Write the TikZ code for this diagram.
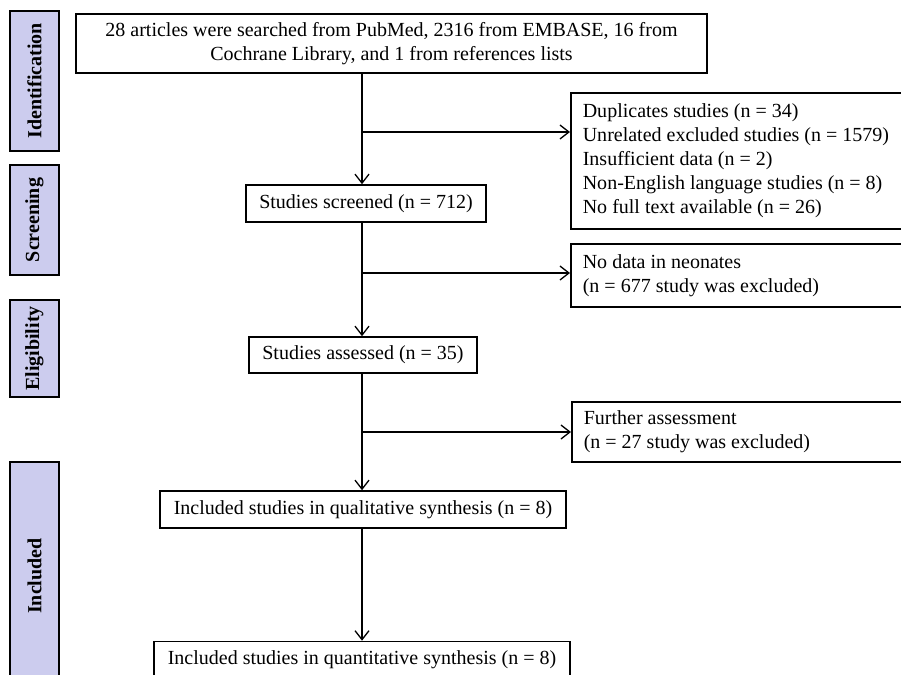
\documentclass[tikz,border=0pt]{standalone}
\usepackage{fontspec}
\setmainfont{Liberation Serif}
\usetikzlibrary{arrows.meta}
\definecolor{phasefill}{RGB}{204,204,238}
\begin{document}
\begin{tikzpicture}[x=1pt,y=-1pt,
  every node/.style={font=\fontsize{20}{24}\selectfont, text=black},
  mainbox/.style={draw, line width=1.6pt, fill=white, inner sep=0pt, minimum height=37pt, align=center},
  sidebox/.style={draw, line width=1.6pt, fill=white, anchor=west, inner xsep=12pt, inner ysep=0pt, text width=318pt, align=flush left},
  phase/.style={draw, line width=1.6pt, fill=phasefill, rotate=90, minimum height=49pt, inner sep=0pt, font=\fontsize{20}{24}\selectfont\bfseries},
  arr/.style={line width=1.3pt, -{Straight Barb[length=9pt,width=14pt,line width=1.3pt]}},
  ln/.style={line width=1.3pt}]
\clip (0,0) rectangle (901,674);
\fill[white] (0,0) rectangle (901,674);
% phase labels
\node[phase, minimum width=140pt] (pid) at (34.5,81) {Identification};
\node[phase, minimum width=110pt] (psc) at (34.5,220) {Screening};
\node[phase, minimum width=97pt] (pel) at (34.5,348.5) {Eligibility};
\node[phase, minimum width=228pt] (pin) at (34.5,576) {Included};
% main boxes
\node[mainbox, minimum width=631pt, minimum height=59pt] (top) at (391.5,43.5) {28 articles were searched from PubMed, 2316 from EMBASE, 16 from\\Cochrane Library, and 1 from references lists};
\node[mainbox, minimum width=240pt] (scr) at (366,203.5) {Studies screened (n = 712)};
\node[mainbox, minimum width=228pt, minimum height=36pt] (ass) at (363,355) {Studies assessed (n = 35)};
\node[mainbox, minimum width=406pt] (qual) at (363,509.5) {Included studies in qualitative synthesis (n = 8)};
\node[mainbox, minimum width=416pt] (quan) at (362,660) {Included studies in quantitative synthesis (n = 8)};
% side boxes
\node[sidebox, minimum height=136pt] (ex1) at (570,161) {Duplicates studies (n = 34)\\Unrelated excluded studies (n = 1579)\\Insufficient data (n = 2)\\Non-English language studies (n = 8)\\No full text available (n = 26)};
\node[sidebox, minimum height=63pt] (ex2) at (570,275.5) {No data in neonates\\(n = 677 study was excluded)};
\node[sidebox, minimum height=60pt] (ex3) at (571,432) {Further assessment\\(n = 27 study was excluded)};
% connectors
\coordinate (v) at (362,0);
\coordinate (b1) at (362,132);
\coordinate (b2) at (362,273);
\coordinate (b3) at (362,432);
\draw[arr] (top.south -| v) -- (scr.north -| v);
\draw[arr] (b1) -- (b1 -| ex1.west);
\draw[arr] (scr.south -| v) -- (ass.north -| v);
\draw[arr] (b2) -- (b2 -| ex2.west);
\draw[arr] (ass.south -| v) -- (qual.north -| v);
\draw[arr] (b3) -- (b3 -| ex3.west);
\draw[arr] (qual.south -| v) -- (quan.north -| v);
\end{tikzpicture}
\end{document}
